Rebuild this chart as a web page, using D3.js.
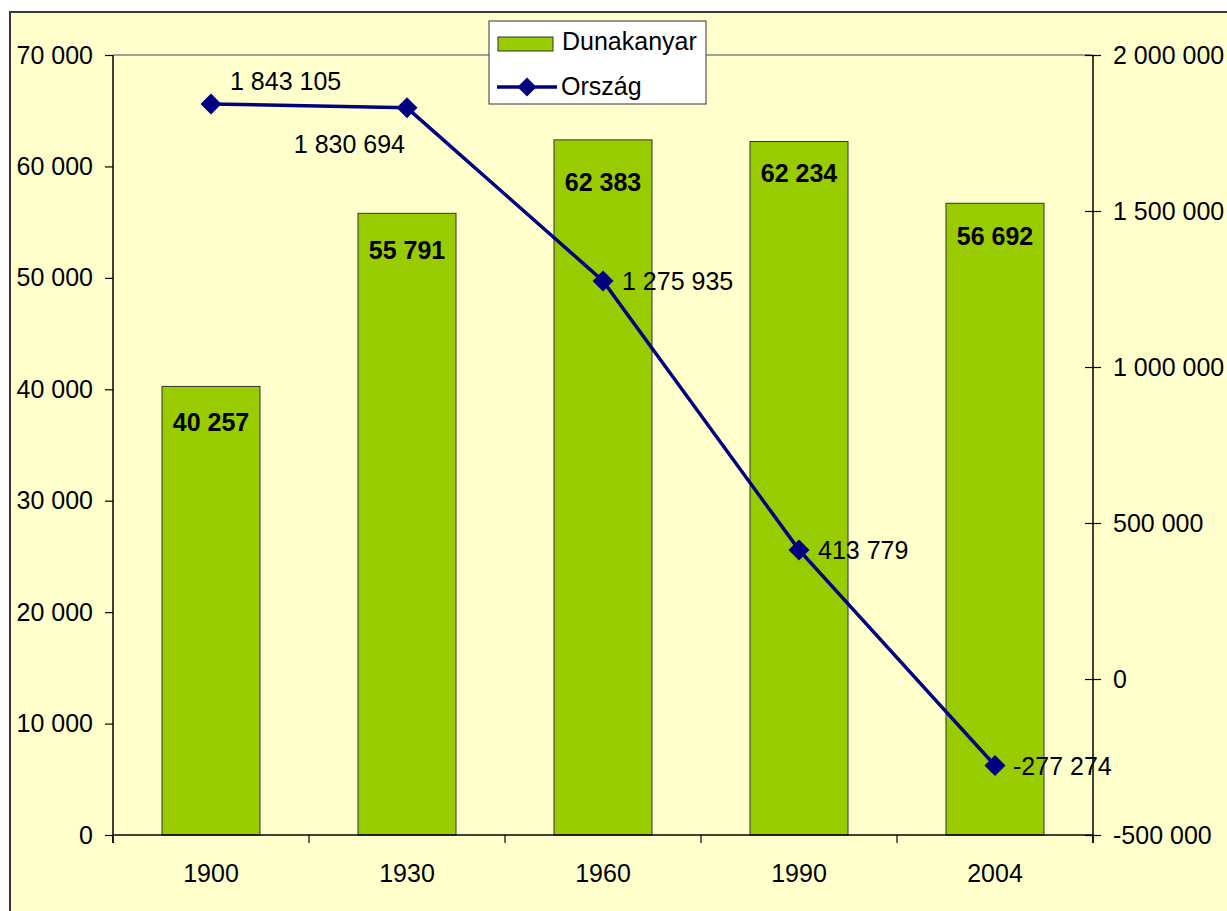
<!DOCTYPE html>
<html>
<head>
<meta charset="utf-8">
<script src="https://cdn.jsdelivr.net/npm/d3@7"></script>
<style>
  html, body { margin: 0; padding: 0; background: #ffffff; }
  svg { display: block; font-family: "Liberation Sans", Arial, sans-serif; }
</style>
</head>
<body>
<svg id="chart" width="1227" height="911"></svg>
<script>
const years = ["1900", "1930", "1960", "1990", "2004"];
const dunakanyar = [40257, 55791, 62383, 62234, 56692];
const orszag = [1843105, 1830694, 1275935, 413779, -277274];
const leftTicks = [0, 10000, 20000, 30000, 40000, 50000, 60000, 70000];
const rightTicks = [-500000, 0, 500000, 1000000, 1500000, 2000000];
const seriesNames = ["Dunakanyar", "Ország"];

const fmt = v => {
  const s = Math.abs(v).toString().replace(/\B(?=(\d{3})+(?!\d))/g, " ");
  return (v < 0 ? "-" : "") + s;
};

const svg = d3.select("#chart");
const W = 1227, H = 911;
const plot = { left: 113, right: 1093, top: 55, bottom: 835 };

// chart area
svg.append("rect").attr("x", 10).attr("y", 12).attr("width", W + 20).attr("height", H + 20)
  .attr("fill", "#FFFFCC").attr("stroke", "#3a3a3a").attr("stroke-width", 2);

const x = d3.scaleBand().domain(years).range([plot.left, plot.right]).paddingInner(0).paddingOuter(0);
const yL = d3.scaleLinear().domain([0, 70000]).range([plot.bottom, plot.top]);
const yR = d3.scaleLinear().domain([-500000, 2000000]).range([plot.bottom, plot.top]);

// plot top border
svg.append("line").attr("x1", plot.left).attr("x2", plot.right).attr("y1", plot.top).attr("y2", plot.top)
  .attr("stroke", "#808080").attr("stroke-width", 1.5);

// bars
const barW = x.bandwidth() / 2;
svg.append("g").selectAll("rect").data(years).join("rect")
  .attr("x", (d) => x(d) + (x.bandwidth() - barW) / 2)
  .attr("y", (d, i) => yL(dunakanyar[i]))
  .attr("width", barW)
  .attr("height", (d, i) => yL(0) - yL(dunakanyar[i]))
  .attr("fill", "#99CC00").attr("stroke", "#333333").attr("stroke-width", 1);

const barLabelDy = [45, 46, 51, 40, 42];
svg.append("g").selectAll("text").data(years).join("text")
  .attr("x", d => x(d) + x.bandwidth() / 2)
  .attr("y", (d, i) => yL(dunakanyar[i]) + barLabelDy[i])
  .attr("text-anchor", "middle")
  .attr("font-size", 25).attr("font-weight", "bold").attr("fill", "#000")
  .text((d, i) => fmt(dunakanyar[i]));

// left axis
const gL = svg.append("g").attr("transform", `translate(${plot.left},0)`)
  .call(d3.axisLeft(yL).tickValues(leftTicks).tickFormat(fmt).tickSize(8).tickPadding(12));
gL.select(".domain").remove();
gL.append("line").attr("x1", 0).attr("x2", 0).attr("y1", plot.top).attr("y2", plot.bottom + 8)
  .attr("stroke", "#000").attr("stroke-width", 1.5);

// right axis
const gR = svg.append("g").attr("transform", `translate(${plot.right},0)`)
  .call(d3.axisRight(yR).tickValues(rightTicks).tickFormat(fmt).tickSize(8).tickPadding(12));
gR.select(".domain").remove();
gR.selectAll(".tick line").attr("x1", -8).attr("x2", 8);
gR.append("line").attr("x1", 0).attr("x2", 0).attr("y1", plot.top).attr("y2", plot.bottom + 8)
  .attr("stroke", "#000").attr("stroke-width", 1.5);

[gL, gR].forEach(g => {
  g.selectAll(".tick line").attr("stroke", "#000").attr("stroke-width", 1.2);
  g.selectAll(".tick text").attr("font-size", 25).attr("fill", "#000")
    .attr("font-family", "'Liberation Sans', Arial, sans-serif");
});

// x axis
svg.append("line").attr("x1", plot.left).attr("x2", plot.right).attr("y1", plot.bottom).attr("y2", plot.bottom)
  .attr("stroke", "#000").attr("stroke-width", 1.5);
const boundaries = years.map(d => x(d)).concat([plot.right]);
svg.append("g").selectAll("line").data(boundaries).join("line")
  .attr("x1", d => d).attr("x2", d => d).attr("y1", plot.bottom).attr("y2", plot.bottom + 8)
  .attr("stroke", "#000").attr("stroke-width", 1.2);
svg.append("g").selectAll("text").data(years).join("text")
  .attr("x", d => x(d) + x.bandwidth() / 2)
  .attr("y", plot.bottom + 47)
  .attr("text-anchor", "middle").attr("font-size", 25).attr("fill", "#000")
  .text(d => d);

// line series
const cx = (d, i) => x(years[i]) + x.bandwidth() / 2;
const line = d3.line().x((d, i) => cx(d, i)).y(d => yR(d));
svg.append("path").datum(orszag).attr("d", line)
  .attr("fill", "none").attr("stroke", "#000080").attr("stroke-width", 3.5);

const diamond = (px, py, r) => `M${px},${py - r}L${px + r},${py}L${px},${py + r}L${px - r},${py}Z`;
svg.append("g").selectAll("path").data(orszag).join("path")
  .attr("d", (d, i) => diamond(cx(d, i), yR(d), 10.5))
  .attr("fill", "#000080");

// line labels (positions as in reference)
const labelPos = [
  { dx: 19, dy: -14, anchor: "start" },
  { dx: -2, dy: 45, anchor: "end" },
  { dx: 19, dy: 9, anchor: "start" },
  { dx: 19, dy: 9, anchor: "start" },
  { dx: 18, dy: 9, anchor: "start" }
];
svg.append("g").selectAll("text").data(orszag).join("text")
  .attr("x", (d, i) => cx(d, i) + labelPos[i].dx)
  .attr("y", (d, i) => yR(d) + labelPos[i].dy)
  .attr("text-anchor", (d, i) => labelPos[i].anchor)
  .attr("font-size", 25).attr("fill", "#000")
  .text(d => fmt(d));

// legend
const lg = svg.append("g");
lg.append("rect").attr("x", 489).attr("y", 21).attr("width", 217).attr("height", 83)
  .attr("fill", "#ffffff").attr("stroke", "#555").attr("stroke-width", 1.2);
lg.append("rect").attr("x", 498).attr("y", 37).attr("width", 55).attr("height", 14)
  .attr("fill", "#99CC00").attr("stroke", "#333").attr("stroke-width", 1);
lg.append("text").attr("x", 562).attr("y", 50).attr("font-size", 25).attr("fill", "#000").text(seriesNames[0]);
lg.append("line").attr("x1", 497).attr("x2", 557).attr("y1", 87).attr("y2", 87)
  .attr("stroke", "#000080").attr("stroke-width", 3.5);
lg.append("path").attr("d", diamond(527, 87, 9.5)).attr("fill", "#000080");
lg.append("text").attr("x", 561).attr("y", 95).attr("font-size", 25).attr("fill", "#000").text(seriesNames[1]);
</script>
</body>
</html>
